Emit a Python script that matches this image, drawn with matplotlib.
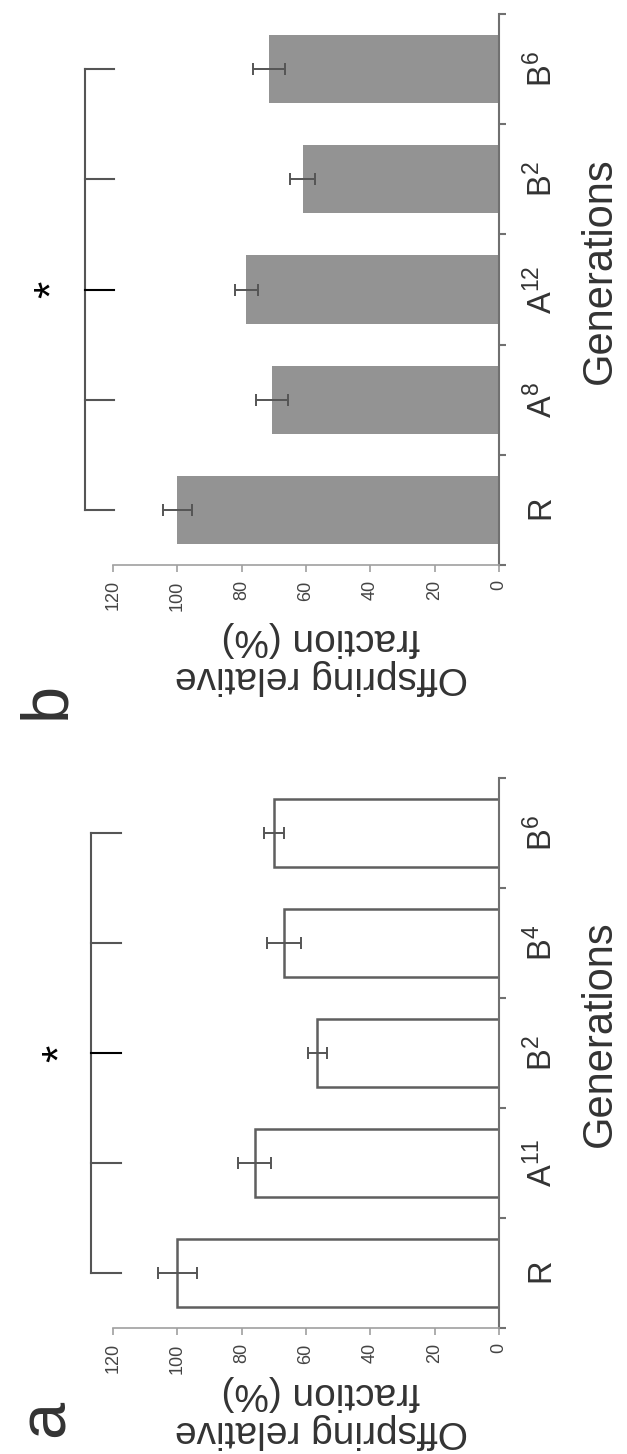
import matplotlib.pyplot as plt

plt.rcParams['font.family'] = ['Liberation Sans', 'DejaVu Sans']
plt.rcParams['mathtext.fontset'] = 'custom'
plt.rcParams['mathtext.rm'] = 'Liberation Sans'

# panel a (white bars)
gens_a = ['R', 'A^{11}', 'B^{2}', 'B^{4}', 'B^{6}']
vals_a = [100, 76, 56.5, 66.7, 70]
errs_a = [6, 5.2, 3, 5.3, 3.1]

# panel b (grey bars)
gens_b = ['R', 'A^{8}', 'A^{12}', 'B^{2}', 'B^{6}']
vals_b = [100, 70.5, 78.5, 61, 71.5]
errs_b = [4.6, 5, 3.7, 3.9, 5]

value_ticks = [0, 20, 40, 60, 80, 100, 120]
ylabel = 'Offspring relative\nfraction (%)'
xlabel = 'Generations'


def draw_panel(ax, gens, vals, errs, filled, brk_x, brk_end, star_x, lab_off):
    pos = list(range(len(gens)))
    if filled:
        ax.barh(pos, vals, height=0.62, color='#939393', edgecolor='none')
    else:
        ax.barh(pos, vals, height=0.61, color='white', edgecolor='#5f5f5f', linewidth=1.8)
    ax.errorbar(vals, pos, xerr=errs, fmt='none', ecolor='#555555',
                elinewidth=1.4, capsize=4.5, capthick=1.4)

    ax.set_xlim(120, 0)
    ax.set_ylim(-0.5, len(gens) - 0.5)

    ax.spines['top'].set_visible(False)
    ax.spines['left'].set_visible(False)
    ax.spines['right'].set_color('#707070')
    ax.spines['right'].set_linewidth(1.5)
    ax.spines['bottom'].set_color('#a0a0a0')
    ax.spines['bottom'].set_linewidth(1.2)

    # value axis (drawn at the bottom, rotated figure)
    ax.set_xticks(value_ticks)
    ax.tick_params(axis='x', direction='out', length=5, width=1.2, color='#a0a0a0',
                   labelsize=13, labelcolor='#444444', pad=6, labelrotation=90)

    # category axis on the right
    ax.yaxis.tick_right()
    ax.set_yticks(pos)
    ax.set_yticklabels([r'$\mathregular{' + g + '}$' for g in gens])
    ax.set_yticks([p - 0.5 for p in range(len(gens) + 1)], minor=True)
    ax.tick_params(axis='y', which='major', length=0, pad=38,
                   labelsize=23.5, labelcolor='#333333')
    ax.tick_params(axis='y', which='minor', length=5, width=1.5,
                   color='#707070', direction='out')
    for lbl in ax.get_yticklabels():
        lbl.set_rotation(90)
        lbl.set_rotation_mode('anchor')
        lbl.set_ha('center')
        lbl.set_va('baseline')

    # significance bracket
    ax.plot([brk_x, brk_x], [0, len(gens) - 1], color='#555555', lw=1.5, clip_on=False)
    for p in pos:
        ax.plot([brk_x, brk_end], [p, p], color='black' if p == 2 else '#555555',
                lw=1.5, clip_on=False)
    ax.text(star_x, 2, '*', rotation=90, ha='center', va='center',
            fontsize=32, color='black')

    ax.text(1.262, 0.535, xlabel, transform=ax.transAxes, rotation=90,
            ha='center', va='center', fontsize=30, color='#333333')
    ax.text(0.539, lab_off, ylabel, transform=ax.transAxes, rotation=180,
            ha='center', va='center', fontsize=28, linespacing=1.05, color='#333333')


fig = plt.figure(figsize=(6.27, 14.54), dpi=100)
ax_a = fig.add_axes([113 / 627, 126 / 1454, 386 / 627, 550 / 1454])
ax_b = fig.add_axes([113 / 627, 889 / 1454, 386 / 627, 551 / 1454])

draw_panel(ax_a, gens_a, vals_a, errs_a, False, 126.8, 117.4, 136.0, -0.153)
draw_panel(ax_b, gens_b, vals_b, errs_b, True, 128.7, 119.6, 138.5, -0.169)

fig.text(64 / 627, (1454 - 1418) / 1454, 'a', rotation=90, rotation_mode='anchor',
         ha='center', va='baseline', fontsize=48, color='#333333')
fig.text(64 / 627, (1454 - 700) / 1454, 'b', rotation=90, rotation_mode='anchor',
         ha='center', va='baseline', fontsize=48, color='#333333')

fig.savefig('out.png', dpi=100)
